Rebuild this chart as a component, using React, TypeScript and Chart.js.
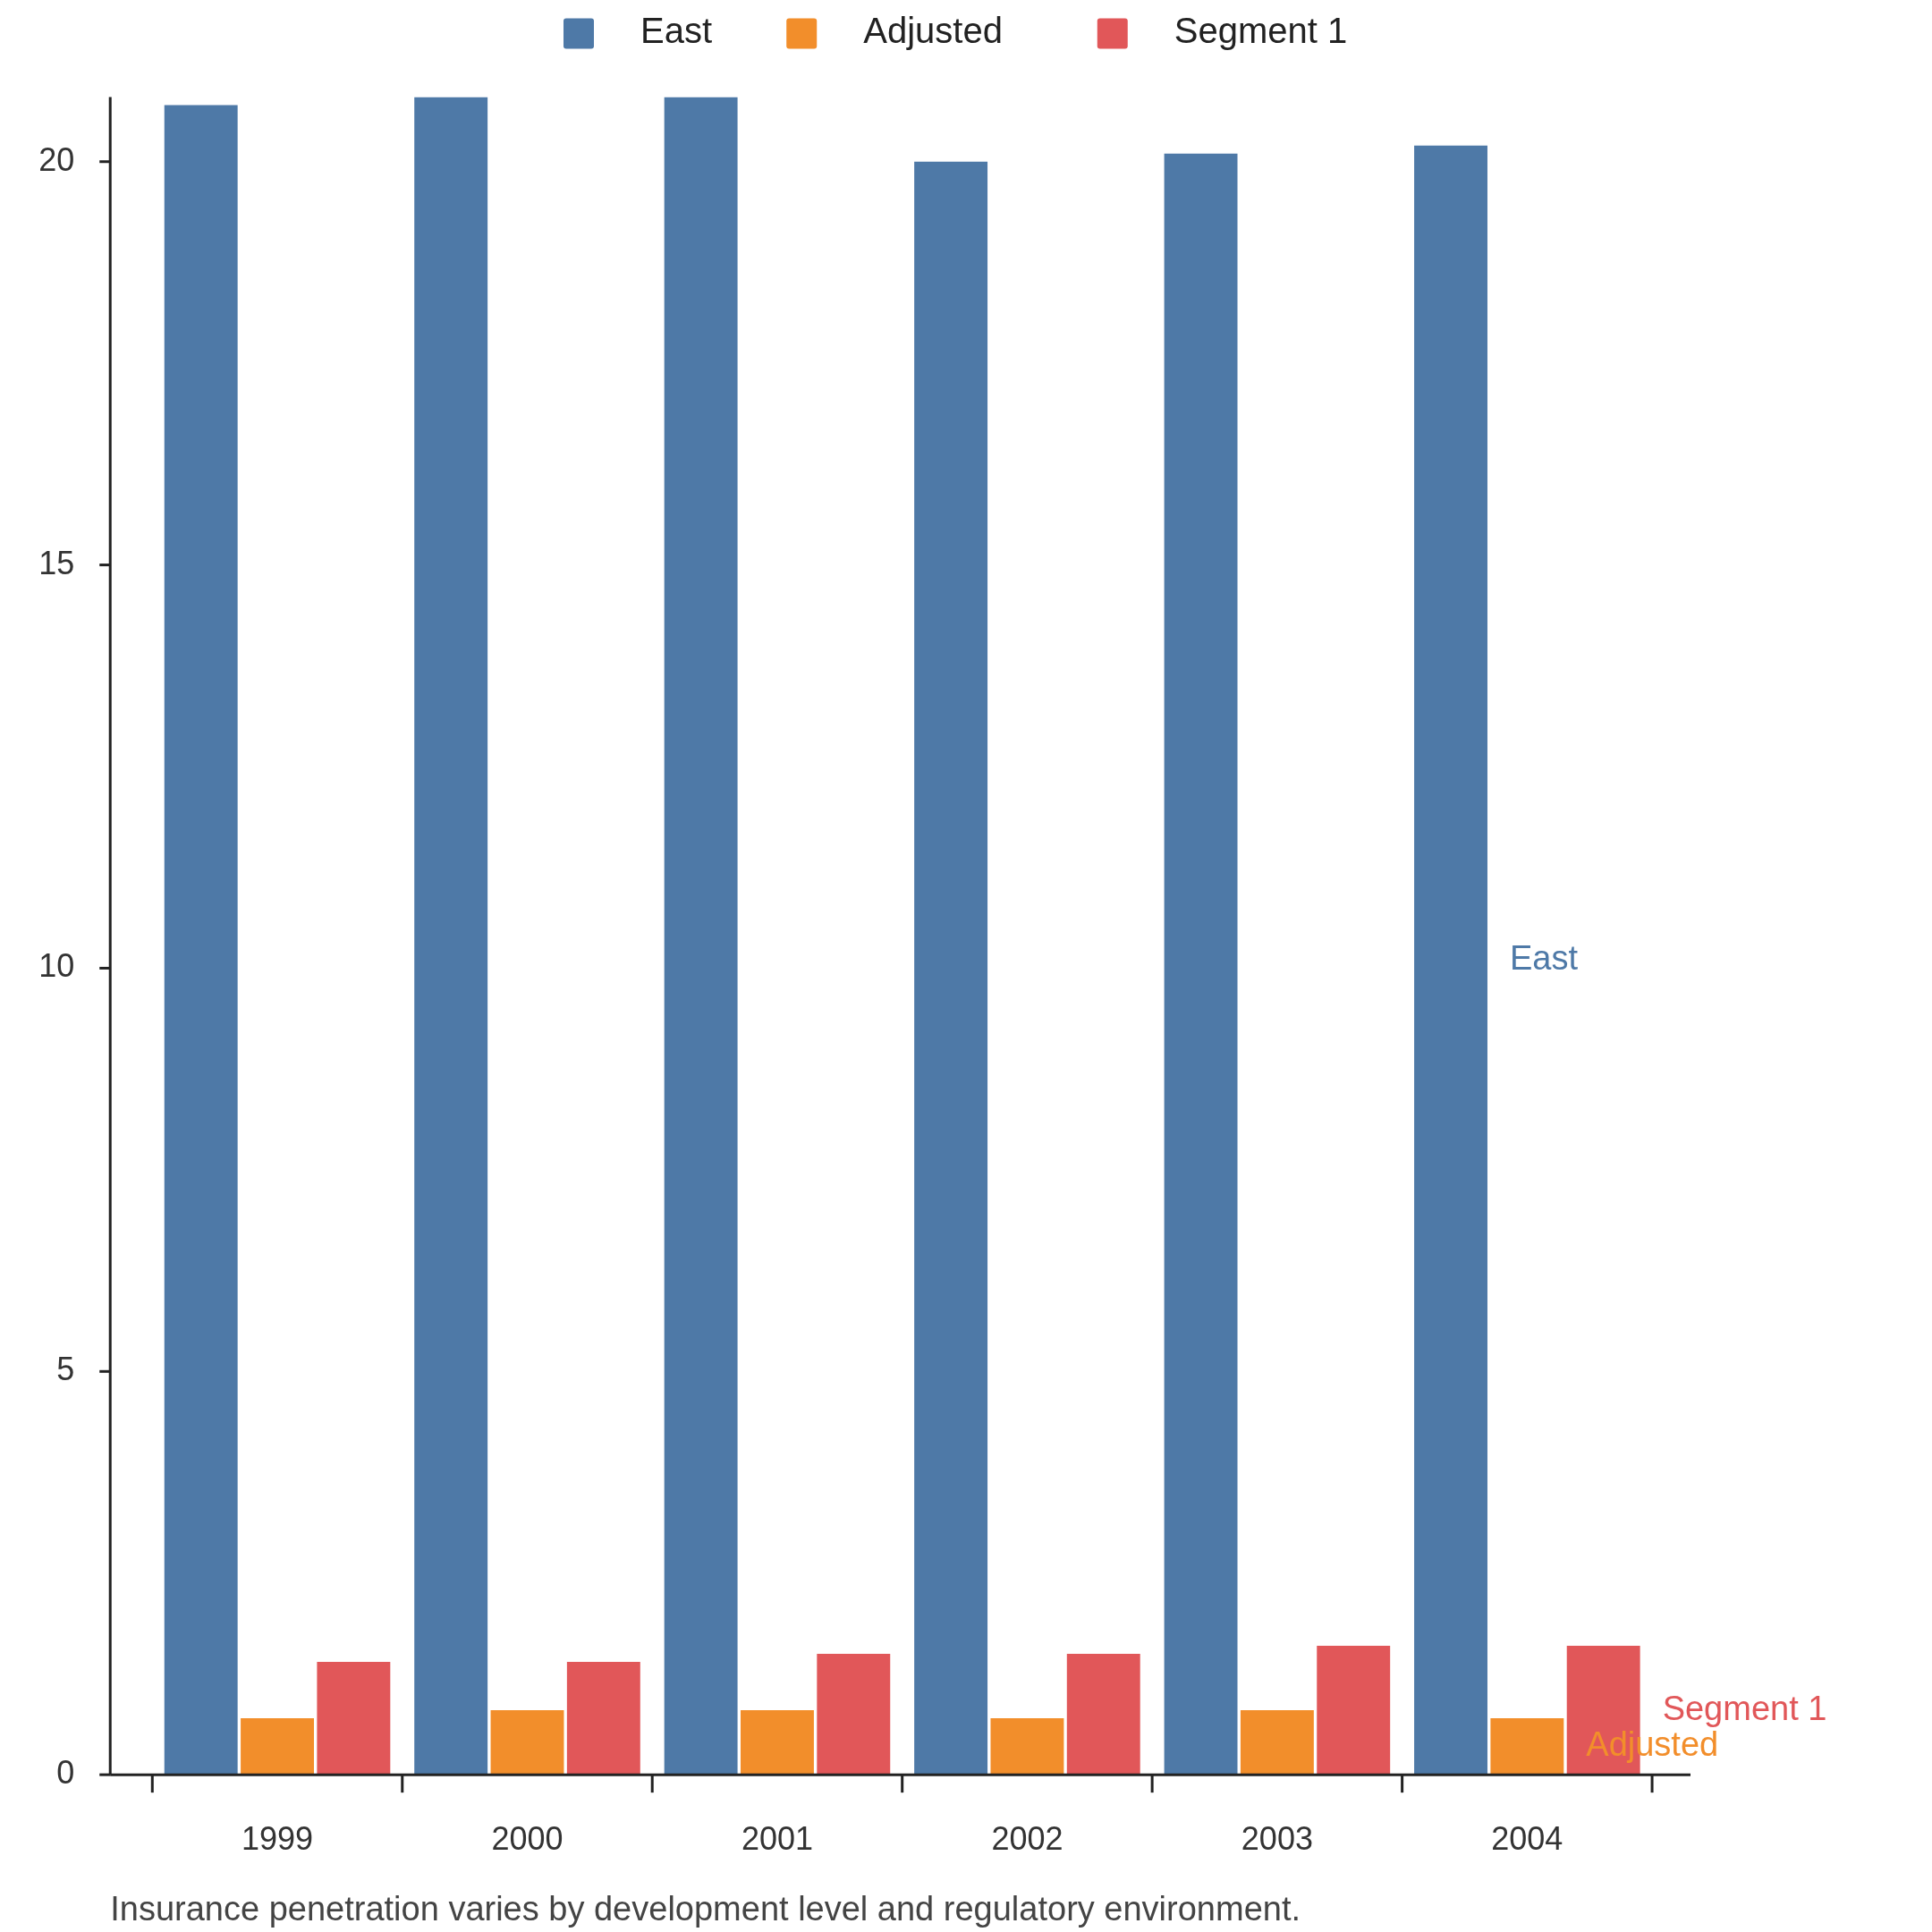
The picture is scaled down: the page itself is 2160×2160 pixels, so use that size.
import React, { useEffect, useRef } from "react";
import { Chart, registerables } from "chart.js";
Chart.register(...registerables);

const categories = ["1999", "2000", "2001", "2002", "2003", "2004"];
const seriesNames = ["East", "Adjusted", "Segment 1"];
const eastValues = [20.7, 20.8, 20.8, 20.0, 20.1, 20.2];
const adjustedValues = [0.7, 0.8, 0.8, 0.7, 0.8, 0.7];
const segmentValues = [1.4, 1.4, 1.5, 1.5, 1.6, 1.6];
const colors = ["#4e79a7", "#f28e2b", "#e15759"];
const yTicks = [0, 5, 10, 15, 20];
const caption = "Insurance penetration varies by development level and regulatory environment.";

const S = 2160 / 1560;
const FONT = "'Liberation Sans', Arial, sans-serif";

const overlay = {
  id: "overlay",
  afterDraw(chart: any) {
    const ctx = chart.ctx;
    const area = chart.chartArea;
    const xs = chart.scales.x;
    const ys = chart.scales.y;
    ctx.save();
    ctx.strokeStyle = "#222";
    ctx.lineWidth = 3;
    const axisX = 89 * S;
    const baseY = ys.getPixelForValue(0);
    // y axis line
    ctx.beginPath();
    ctx.moveTo(axisX, area.top);
    ctx.lineTo(axisX, baseY);
    ctx.stroke();
    // y ticks
    yTicks.forEach((v) => {
      const y = ys.getPixelForValue(v);
      ctx.beginPath();
      ctx.moveTo(axisX - 12, y);
      ctx.lineTo(axisX, y);
      ctx.stroke();
    });
    // x axis line
    ctx.beginPath();
    ctx.moveTo(axisX, baseY);
    ctx.lineTo(1365 * S, baseY);
    ctx.stroke();
    // x ticks between categories
    const n = categories.length;
    const step = (area.right - area.left) / n;
    for (let i = 0; i <= n; i++) {
      const x = area.left + step * i;
      ctx.beginPath();
      ctx.moveTo(x, baseY);
      ctx.lineTo(x, baseY + 20);
      ctx.stroke();
    }
    // end labels
    ctx.font = `38px ${FONT}`;
    ctx.textBaseline = "middle";
    ctx.textAlign = "left";
    chart.data.datasets.forEach((ds: any, di: number) => {
      const meta = chart.getDatasetMeta(di);
      const el = meta.data[meta.data.length - 1];
      const v = ds.data[ds.data.length - 1];
      ctx.fillStyle = colors[di];
      ctx.fillText(seriesNames[di], el.x + el.width / 2 + 25, ys.getPixelForValue(v / 2));
    });
    // legend
    const legendX = [455, 635, 886];
    ctx.font = `40px ${FONT}`;
    seriesNames.forEach((name, i) => {
      const x = legendX[i] * S;
      const y = 27 * S;
      ctx.fillStyle = colors[i];
      ctx.beginPath();
      (ctx as any).roundRect(x, y - 17, 34, 34, 3);
      ctx.fill();
      ctx.fillStyle = "#222";
      ctx.fillText(name, x + 34 + 52, y);
    });
    // caption
    ctx.fillStyle = "#444";
    ctx.font = `38px ${FONT}`;
    ctx.fillText(caption, 89 * S, 1543 * S);
    ctx.restore();
  },
};

export default function App() {
  const ref = useRef<HTMLCanvasElement>(null);
  useEffect(() => {
    const data = [eastValues, adjustedValues, segmentValues];
    const chart = new Chart(ref.current!, {
      type: "bar",
      data: {
        labels: categories,
        datasets: seriesNames.map((name, i) => ({
          label: name,
          data: data[i],
          backgroundColor: colors[i],
          categoryPercentage: 0.916,
          barPercentage: 0.96,
        })),
      },
      options: {
        animation: false,
        responsive: false,
        devicePixelRatio: 1,
        layout: { padding: { top: 72 * S, right: 2160 - 1334 * S, bottom: 0, left: 0 } },
        plugins: { legend: { display: false }, tooltip: { enabled: false } },
        scales: {
          x: {
            grid: { display: false, drawTicks: false },
            border: { display: false },
            ticks: { color: "#333", font: { size: 36, family: FONT }, padding: 52 },
            afterFit: (s: any) => { s.height = 2160 - 1433 * S; },
          },
          y: {
            min: 0,
            max: 20.8,
            grid: { display: false, drawTicks: false },
            border: { display: false },
            afterBuildTicks: (s: any) => { s.ticks = yTicks.map((v) => ({ value: v })); },
            ticks: { color: "#333", font: { size: 36, family: FONT }, padding: 170 - 83 },
            afterFit: (s: any) => { s.width = 123 * S; },
          },
        },
      },
      plugins: [overlay],
    });
    return () => chart.destroy();
  }, []);
  return (
    <div style={{ position: "absolute", left: 0, top: 0, width: 2160, height: 2160, background: "#fff" }}>
      <canvas ref={ref} width={2160} height={2160} style={{ width: 2160, height: 2160 }} />
    </div>
  );
}
